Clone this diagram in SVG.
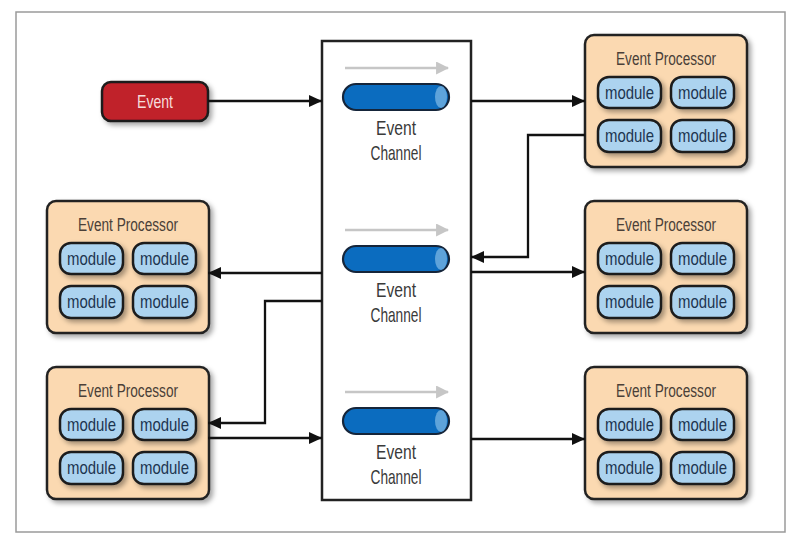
<svg xmlns="http://www.w3.org/2000/svg" width="811" height="544" viewBox="0 0 811 544">
<defs>
<style>
.frame{fill:#fff;stroke:#9a9a9a;stroke-width:1.5}
.bus{fill:#fff;stroke:#222;stroke-width:2.5}
.ep{fill:#fbd9b1;stroke:#222;stroke-width:2.5}
.mod{fill:#acd3ef;stroke:#1e1e1e;stroke-width:2.5}
.t{font-family:"Liberation Sans Narrow","Liberation Sans",Arial,sans-serif;text-anchor:middle}
.ept{font-size:18px;fill:#4a3f38}
.mt{font-size:19px;fill:#1d3550}
.ct{font-size:21px;fill:#3a3a3a}
.conn{fill:none;stroke:#111;stroke-width:2.3}
.cyl{fill:#0b6cbf;stroke:#15253a;stroke-width:2.2}
.cap{fill:#5ea3da}
.flow{stroke:#c6c6c6;stroke-width:2.5;fill:none}
</style>
<marker id="ah" viewBox="0 0 13 12" refX="13" refY="6" markerWidth="13" markerHeight="12" markerUnits="userSpaceOnUse" orient="auto">
<path d="M0,0 L13,6 L0,12 Z" fill="#111"/>
</marker>
<marker id="gh" viewBox="0 0 12 12" refX="11" refY="6" markerWidth="13" markerHeight="13" markerUnits="userSpaceOnUse" orient="auto">
<path d="M0,0 L12,6 L0,12 Z" fill="#c6c6c6"/>
</marker>
<filter id="sh" x="-20%" y="-20%" width="150%" height="150%">
<feDropShadow dx="3" dy="3" stdDeviation="2.5" flood-color="#000" flood-opacity="0.35"/>
</filter>
<g id="procTpl">
<rect class="ep" x="0" y="0" width="162" height="132" rx="9" filter="url(#sh)"/>
<text class="t ept" x="81" y="30" textLength="100" lengthAdjust="spacingAndGlyphs">Event Processor</text>
<rect class="mod" x="13" y="42" width="63" height="31" rx="11" filter="url(#sh)"/>
<rect class="mod" x="86" y="42" width="63" height="31" rx="11" filter="url(#sh)"/>
<rect class="mod" x="13" y="85" width="63" height="32" rx="11" filter="url(#sh)"/>
<rect class="mod" x="86" y="85" width="63" height="32" rx="11" filter="url(#sh)"/>
<text class="t mt" x="44.5" y="64" textLength="49" lengthAdjust="spacingAndGlyphs">module</text>
<text class="t mt" x="117.5" y="64" textLength="49" lengthAdjust="spacingAndGlyphs">module</text>
<text class="t mt" x="44.5" y="107" textLength="49" lengthAdjust="spacingAndGlyphs">module</text>
<text class="t mt" x="117.5" y="107" textLength="49" lengthAdjust="spacingAndGlyphs">module</text>
</g>
<g id="chanTpl">
<line class="flow" x1="345" y1="0" x2="448" y2="0" marker-end="url(#gh)"/>
<rect class="cyl" x="343" y="16" width="106" height="26" rx="13"/>
<ellipse class="cap" cx="441" cy="29" rx="6" ry="11"/>
<text class="t ct" x="396" y="67" textLength="40" lengthAdjust="spacingAndGlyphs">Event</text>
<text class="t ct" x="396" y="92" textLength="51" lengthAdjust="spacingAndGlyphs">Channel</text>
</g>
</defs>
<rect x="0" y="0" width="811" height="544" fill="#fff"/>
<rect class="frame" x="16" y="12" width="769" height="520"/>
<g id="event-channel-bus">
<rect class="bus" x="322" y="41" width="149" height="459"/>
</g>
<g id="channel1"><use href="#chanTpl" y="68"/></g>
<g id="channel2"><use href="#chanTpl" y="230"/></g>
<g id="channel3"><use href="#chanTpl" y="392"/></g>
<g id="event">
<rect x="102" y="82" width="106" height="39" rx="9" fill="#c0222b" stroke="#1a1a1a" stroke-width="2.5" filter="url(#sh)"/>
<text class="t" x="155" y="108" font-size="19" fill="#f6dcdc" textLength="36" lengthAdjust="spacingAndGlyphs">Event</text>
</g>
<g id="processor-r1"><use href="#procTpl" x="585" y="35"/></g>
<g id="processor-r2"><use href="#procTpl" x="585" y="201"/></g>
<g id="processor-r3"><use href="#procTpl" x="585" y="367"/></g>
<g id="processor-l1"><use href="#procTpl" x="47" y="201"/></g>
<g id="processor-l2"><use href="#procTpl" x="47" y="367"/></g>
<g id="connectors">
<path class="conn" d="M208,101 H322" marker-end="url(#ah)"/>
<path class="conn" d="M471,101 H585" marker-end="url(#ah)"/>
<path class="conn" d="M585,135 H528 V257 H471" marker-end="url(#ah)"/>
<path class="conn" d="M471,272 H585" marker-end="url(#ah)"/>
<path class="conn" d="M322,273 H208" marker-end="url(#ah)"/>
<path class="conn" d="M322,301 H265 V423 H208" marker-end="url(#ah)"/>
<path class="conn" d="M208,438 H322" marker-end="url(#ah)"/>
<path class="conn" d="M471,439 H585" marker-end="url(#ah)"/>
</g>
</svg>
